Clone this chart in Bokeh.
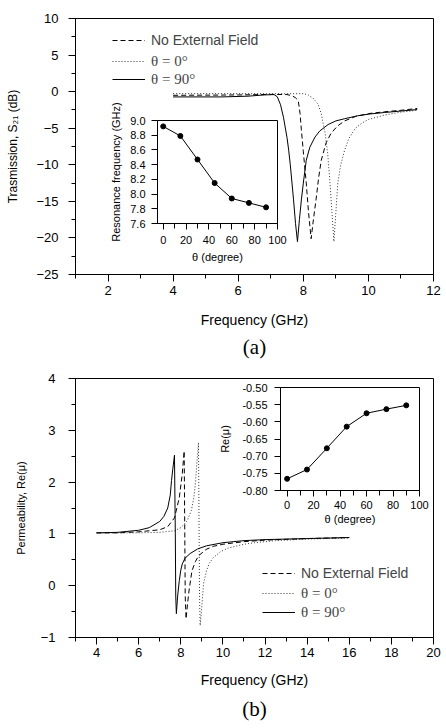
from bokeh.plotting import figure
from bokeh.models import Range1d, FixedTicker, Legend, LegendItem, Title, PrintfTickFormatter
from bokeh.layouts import column
from bokeh.embed import file_html
from bokeh.resources import INLINE

# ---------------- data (a) transmission ----------------
a_nofield_x = [4.0, 5.0, 6.0, 7.0, 7.5, 7.64, 7.75, 7.8, 7.85, 7.9, 7.94, 8.0, 8.09, 8.16, 8.24,
               8.31, 8.39, 8.47, 8.55, 8.7, 8.85, 9.05, 9.27, 9.6, 10.0, 10.5, 11.0, 11.5]
a_nofield_y = [-0.5, -0.48, -0.45, -0.38, -0.4, -0.55, -0.8, -1.0, -1.4, -3.0, -5.2, -8.2, -12.5, -16.5, -20.1,
               -17.5, -14.8, -11.8, -9.4, -7.0, -5.7, -4.7, -4.0, -3.4, -3.0, -2.75, -2.55, -2.3]
a_t0_x = [4.0, 6.0, 8.0, 8.15, 8.3, 8.45, 8.55, 8.67, 8.75, 8.82, 8.88, 8.94, 9.0, 9.06, 9.15,
          9.27, 9.4, 9.6, 9.8, 10.0, 10.5, 11.0, 11.5]
a_t0_y = [-0.27, -0.27, -0.28, -0.45, -0.9, -1.7, -3.0, -5.7, -8.5, -12.5, -16.5, -20.5, -16.5, -12.5, -10.0,
          -8.0, -6.4, -5.0, -4.3, -3.8, -3.2, -2.8, -2.55]
a_t90_x = [4.0, 5.5, 6.3, 6.8, 7.1, 7.2, 7.3, 7.39, 7.5, 7.55, 7.6, 7.7, 7.76, 7.82, 7.88, 7.94,
           8.0, 8.09, 8.2, 8.36, 8.5, 8.76, 9.0, 9.27, 9.67, 10.06, 10.5, 11.0, 11.5]
a_t90_y = [-0.72, -0.72, -0.62, -0.45, -0.4, -0.7, -1.8, -3.5, -6.3, -8.0, -10.0, -14.8, -18.0, -20.5, -17.5, -14.8,
           -12.5, -9.4, -7.6, -6.2, -5.4, -4.5, -4.0, -3.7, -3.3, -3.05, -2.85, -2.65, -2.45]

# inset (a): resonance frequency vs angle
theta = [0, 15, 30, 45, 60, 75, 90]
res_freq = [8.92, 8.79, 8.47, 8.15, 7.94, 7.88, 7.82]

# ---------------- data (b) permeability ----------------
b_nofield_x = [4.0, 5.0, 6.0, 6.5, 7.0, 7.38, 7.7, 7.93, 8.07, 8.16, 8.19, 8.21, 8.25, 8.32, 8.39,
               8.53, 8.7, 8.85, 9.2, 9.54, 10.0, 11.0, 12.0, 14.0, 16.0]
b_nofield_y = [1.02, 1.02, 1.04, 1.06, 1.08, 1.14, 1.31, 1.7, 2.16, 2.6, 1.0, -0.2, -0.64, -0.35, -0.1,
               0.29, 0.47, 0.58, 0.7, 0.76, 0.8, 0.85, 0.88, 0.91, 0.93]
b_t0_x = [4.0, 6.0, 7.0, 7.7, 8.0, 8.3, 8.5, 8.62, 8.7, 8.76, 8.84, 8.87, 8.89, 8.92, 8.98,
          9.08, 9.22, 9.35, 9.54, 9.9, 10.28, 11.0, 11.5, 12.5, 14.0, 16.0]
b_t0_y = [1.02, 1.02, 1.03, 1.06, 1.12, 1.25, 1.45, 1.7, 2.0, 2.35, 2.76, 1.0, -0.2, -0.77, -0.5,
          0.04, 0.29, 0.43, 0.54, 0.66, 0.73, 0.8, 0.83, 0.87, 0.9, 0.92]
b_t90_x = [4.0, 5.0, 6.0, 6.5, 7.0, 7.2, 7.38, 7.5, 7.56, 7.62, 7.7, 7.74, 7.76, 7.79, 7.85, 7.93,
           8.0, 8.07, 8.2, 8.44, 8.8, 9.22, 10.0, 11.0, 12.0, 14.0, 16.0]
b_t90_y = [1.02, 1.03, 1.07, 1.12, 1.24, 1.34, 1.5, 1.75, 2.03, 2.25, 2.52, 1.0, -0.2, -0.54, -0.2, 0.1,
           0.3, 0.42, 0.53, 0.62, 0.71, 0.77, 0.83, 0.87, 0.89, 0.91, 0.93]

# inset (b): Re(mu) minimum vs angle
re_mu = [-0.766, -0.739, -0.677, -0.614, -0.575, -0.563, -0.552]

legend_labels = ["No External Field", "\u03b8 = 0\u00b0", "\u03b8 = 90\u00b0"]

SANS = "Liberation Sans"
SERIF = "Liberation Serif"


def style_axes(p, tick_size, label_size, major_out=7, minor_out=4):
    for ax in (p.xaxis[0], p.yaxis[0]):
        ax.axis_line_color = "black"
        ax.major_tick_line_color = "black"
        ax.minor_tick_line_color = "black"
        ax.major_tick_in = 0
        ax.major_tick_out = major_out
        ax.minor_tick_in = 0
        ax.minor_tick_out = minor_out
        ax.major_label_text_font = SANS
        ax.major_label_text_font_size = tick_size
        ax.major_label_text_color = "black"
        ax.axis_label_text_font = SANS
        ax.axis_label_text_font_size = label_size
        ax.axis_label_text_font_style = "normal"
        ax.axis_label_text_color = "black"
    p.xgrid.visible = False
    p.ygrid.visible = False
    p.outline_line_color = "black"
    p.outline_line_alpha = 1.0


def add_legends(p, renderers, x0, ys):
    fonts = [SANS, SERIF, SERIF]
    sizes = ["14px", "15px", "15px"]
    for r, lab, y, f, s in zip(renderers, legend_labels, ys, fonts, sizes):
        leg = Legend(items=[LegendItem(label=lab, renderers=[r])], location=(x0, y),
                     glyph_width=33, glyph_height=18, label_height=18, label_standoff=6,
                     padding=0, margin=0, spacing=0, border_line_alpha=0,
                     background_fill_alpha=0, label_text_font=f, label_text_font_size=s)
        p.add_layout(leg)


# ---------------- panel (a) ----------------
pa = figure(width=446, height=360, x_range=Range1d(1, 12), y_range=Range1d(-25, 10),
            output_backend="svg", toolbar_location=None,
            min_border_left=75, min_border_right=9, min_border_top=18, min_border_bottom=82,
            x_axis_label="Frequency (GHz)", y_axis_label="Trasmission, S\u2082\u2081 (dB)")
style_axes(pa, "13px", "14px")
pa.yaxis[0].axis_label_text_font_size = "12px"
pa.xaxis[0].ticker = FixedTicker(ticks=[2, 4, 6, 8, 10, 12], minor_ticks=[1, 3, 5, 7, 9, 11])
pa.yaxis[0].ticker = FixedTicker(ticks=[-25, -20, -15, -10, -5, 0, 5, 10],
                                 minor_ticks=[-22.5, -17.5, -12.5, -7.5, -2.5, 2.5, 7.5])
pa.xaxis[0].major_label_standoff = 4
pa.xaxis[0].axis_label_standoff = 14
pa.yaxis[0].major_label_standoff = 10
pa.yaxis[0].axis_label_standoff = 13

ra1 = pa.line(a_nofield_x, a_nofield_y, line_color="black", line_width=1, line_dash="5 3")
ra2 = pa.line(a_t0_x, a_t0_y, line_color="#333333", line_width=1, line_dash="1 2")
ra3 = pa.line(a_t90_x, a_t90_y, line_color="black", line_width=1)
add_legends(pa, [ra1, ra2, ra3], 37, [225, 204, 186])
pa.add_layout(Title(text="(a)", align="center", text_font=SERIF, text_font_size="21px",
                    text_font_style="normal", text_color="black", standoff=4), "below")

# ---------------- panel (b) ----------------
pb = figure(width=446, height=368, x_range=Range1d(3, 20), y_range=Range1d(-1, 4),
            output_backend="svg", toolbar_location=None,
            min_border_left=75, min_border_right=3, min_border_top=18, min_border_bottom=91,
            x_axis_label="Frequency (GHz)", y_axis_label="Permeability, Re(\u03bc)")
style_axes(pb, "13px", "14px")
pb.yaxis[0].axis_label_text_font_size = "11px"
pb.xaxis[0].ticker = FixedTicker(ticks=[4, 6, 8, 10, 12, 14, 16, 18, 20],
                                 minor_ticks=[3, 5, 7, 9, 11, 13, 15, 17, 19])
pb.yaxis[0].ticker = FixedTicker(ticks=[-1, 0, 1, 2, 3, 4], minor_ticks=[-0.5, 0.5, 1.5, 2.5, 3.5])
pb.xaxis[0].major_label_standoff = 3
pb.xaxis[0].axis_label_standoff = 12
pb.yaxis[0].major_label_standoff = 13
pb.yaxis[0].axis_label_standoff = 11

rb1 = pb.line(b_nofield_x, b_nofield_y, line_color="black", line_width=1, line_dash="5 3")
rb2 = pb.line(b_t0_x, b_t0_y, line_color="#333333", line_width=1, line_dash="1 2")
rb3 = pb.line(b_t90_x, b_t90_y, line_color="black", line_width=1)
add_legends(pb, [rb1, rb2, rb3], 187, [55, 35, 16])
pb.add_layout(Title(text="(b)", align="center", text_font=SERIF, text_font_size="21px",
                    text_font_style="normal", text_color="black", standoff=8), "below")

# ---------------- insets ----------------
ia = figure(width=208, height=171, x_range=Range1d(-5, 100), y_range=Range1d(7.6, 9.0),
            output_backend="svg", toolbar_location=None,
            min_border_left=51, min_border_right=12, min_border_top=22, min_border_bottom=46,
            background_fill_alpha=0, border_fill_alpha=0,
            x_axis_label="\u03b8 (degree)", y_axis_label="Resonance frequency (GHz)",
            styles={"position": "absolute", "left": "82px", "top": "98px"})
style_axes(ia, "11px", "11px", major_out=6, minor_out=5)
ia.xaxis[0].ticker = FixedTicker(ticks=[0, 20, 40, 60, 80, 100], minor_ticks=[10, 30, 50, 70, 90])
ia.yaxis[0].ticker = FixedTicker(ticks=[7.6, 7.8, 8.0, 8.2, 8.4, 8.6, 8.8, 9.0], minor_ticks=[])
ia.yaxis[0].formatter = PrintfTickFormatter(format="%.1f")
ia.xaxis[0].major_label_standoff = 6
ia.xaxis[0].axis_label_standoff = 4
ia.yaxis[0].major_label_standoff = 6
ia.yaxis[0].axis_label_standoff = 5
ia.line(theta, res_freq, line_color="black", line_width=1)
ia.scatter(theta, res_freq, size=5, color="black")

ib = figure(width=227, height=147, x_range=Range1d(-5, 100), y_range=Range1d(-0.80, -0.50),
            output_backend="svg", toolbar_location=None,
            min_border_left=68, min_border_right=13, min_border_top=7, min_border_bottom=36,
            background_fill_alpha=0, border_fill_alpha=0,
            x_axis_label="\u03b8 (degree)", y_axis_label="Re(\u03bc)",
            styles={"position": "absolute", "left": "205px", "top": "380px"})
style_axes(ib, "11px", "11px", major_out=6, minor_out=5)
ib.xaxis[0].ticker = FixedTicker(ticks=[0, 20, 40, 60, 80, 100], minor_ticks=[10, 30, 50, 70, 90])
ib.yaxis[0].ticker = FixedTicker(ticks=[-0.80, -0.75, -0.70, -0.65, -0.60, -0.55, -0.50], minor_ticks=[])
ib.yaxis[0].formatter = PrintfTickFormatter(format="%.2f")
ib.xaxis[0].major_label_standoff = 4
ib.xaxis[0].axis_label_standoff = 1
ib.yaxis[0].major_label_standoff = 7
ib.yaxis[0].axis_label_standoff = 8
ib.line(theta, re_mu, line_color="black", line_width=1)
ib.scatter(theta, re_mu, size=5, color="black")

p = column(pa, pb, ia, ib, spacing=0)
open("out.html", "w").write(file_html(p, INLINE))
